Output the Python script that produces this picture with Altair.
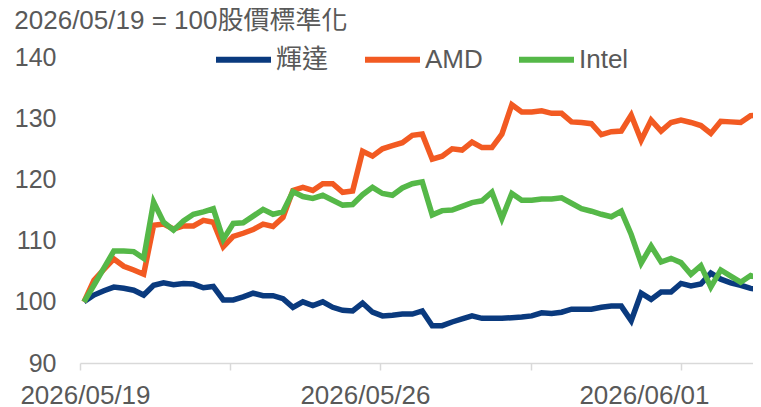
import altair as alt
import pandas as pd

series_names = ["輝達", "AMD", "Intel"]
series_colors = ["#0a3a7e", "#f25a22", "#55b848"]

nvda = [100, 101.1, 101.8, 102.4, 102.2, 101.9, 101.1, 102.7, 103.1, 102.8,
        103.0, 102.9, 102.3, 102.5, 100.3, 100.3, 100.8, 101.4, 101.0, 101.0,
        100.5, 99.1, 100.0, 99.4, 100.0, 99.1, 98.6, 98.5, 99.8, 98.3,
        97.7, 97.8, 98.0, 98.0, 98.5, 96.1, 96.1, 96.7, 97.2, 97.7,
        97.3, 97.3, 97.3, 97.4, 97.5, 97.7, 98.2, 98.1, 98.3, 98.8,
        98.8, 98.8, 99.1, 99.3, 99.3, 96.9, 101.4, 100.4, 101.6, 101.6,
        103.0, 102.6, 102.9, 104.7, 103.7, 103.1, 102.7, 102.2, 101.9]
amd = [100, 103.5, 105.3, 107.0, 105.8, 105.2, 104.5, 112.5, 112.7, 111.9,
       112.4, 112.4, 113.3, 113.0, 109.0, 110.7, 111.2, 111.8, 112.7, 112.3,
       113.8, 118.2, 118.7, 118.2, 119.3, 119.3, 117.9, 118.1, 124.6, 123.8,
       125.0, 125.5, 126.0, 127.2, 127.4, 123.3, 123.8, 125.0, 124.8, 126.1,
       125.2, 125.2, 127.4, 132.2, 131.0, 131.0, 131.2, 130.8, 130.8, 129.4,
       129.3, 129.1, 127.3, 127.8, 127.9, 130.5, 126.4, 129.7, 127.9, 129.3,
       129.7, 129.3, 128.8, 127.5, 129.5, 129.4, 129.3, 130.4, 130.6]
intel = [100, 102.7, 105.5, 108.3, 108.3, 108.2, 107.1, 116.3, 113.0, 111.7,
         113.2, 114.3, 114.7, 115.2, 110.2, 112.8, 112.9, 114.0, 115.1, 114.3,
         114.7, 118.0, 117.2, 116.9, 117.4, 116.6, 115.8, 115.9, 117.5, 118.7,
         117.7, 117.4, 118.6, 119.3, 119.6, 114.2, 114.9, 115.0, 115.6, 116.2,
         116.5, 117.9, 113.6, 117.7, 116.6, 116.6, 116.8, 116.8, 117.0, 116.1,
         115.2, 114.8, 114.3, 113.9, 114.8, 111.0, 106.3, 109.1, 106.5, 107.1,
         106.4, 104.5, 105.9, 102.4, 105.2, 104.2, 103.2, 104.3, 103.7]

x_tick_values = [-0.4, 14.67, 29.8, 44.9, 60.0]
x_label_values = [0.1, 28.24, 56.28]
x_labels = ["2026/05/19", "2026/05/26", "2026/06/01"]
y_ticks = [90, 100, 110, 120, 130, 140]
title_text = "2026/05/19 = 100股價標準化"

rows = []
for name, vals in zip(series_names, [nvda, amd, intel]):
    for i, v in enumerate(vals):
        rows.append({"idx": i, "name": name, "value": v})
df = pd.DataFrame(rows)

FONT = "Liberation Sans, Arial, Noto Sans CJK TC, sans-serif"
GRAY = "#595959"

xscale = alt.Scale(domain=[-0.4, 67.24], nice=False, zero=False)
yscale = alt.Scale(domain=[90, 140], nice=False, zero=False)

y_axis = alt.Axis(values=y_ticks, grid=False, domain=False, ticks=False,
                  labelPadding=24, labelFontSize=25, labelColor=GRAY,
                  labelFont=FONT, title=None)

label_expr = (
    f"datum.value < 14 ? '{x_labels[0]}' : "
    f"datum.value < 42 ? '{x_labels[1]}' : '{x_labels[2]}'"
)

lines = alt.Chart(df).mark_line(strokeWidth=5.5).encode(
    x=alt.X("idx:Q", scale=xscale,
            axis=alt.Axis(orient="bottom", values=x_tick_values, labels=False,
                          grid=False, domainColor="#d9d9d9", domainWidth=1.5,
                          tickColor="#d9d9d9", tickSize=7, tickWidth=1.5,
                          title=None)),
    y=alt.Y("value:Q", scale=yscale, axis=y_axis),
    color=alt.Color("name:N",
                    scale=alt.Scale(domain=series_names, range=series_colors),
                    legend=alt.Legend(orient="none", legendX=133, legendY=-28,
                                      direction="horizontal", title=None,
                                      symbolType="stroke", symbolSize=3025,
                                      symbolStrokeWidth=6, labelFontSize=26,
                                      labelColor=GRAY, labelFont=FONT,
                                      labelOffset=2, columnPadding=24,
                                      padding=0)),
)

label_layer = alt.Chart(df).mark_point(opacity=0).encode(
    x=alt.X("idx:Q", scale=xscale,
            axis=alt.Axis(orient="bottom", values=x_label_values,
                          labelExpr=label_expr, domain=False, ticks=False,
                          grid=False, labelPadding=19, labelFontSize=26,
                          labelColor=GRAY, labelFont=FONT, title=None,
                          labelFlush=False, labelOverlap=False)),
    y=alt.Y("value:Q", scale=yscale, axis=y_axis),
)

chart = alt.layer(lines, label_layer).resolve_axis(x="independent").properties(
    width=673,
    height=306,
    autosize=alt.AutoSizeParams(type="none"),
    padding={"left": 72, "top": 49, "right": 0, "bottom": 44},
    title=alt.TitleParams(title_text, anchor="start", fontSize=26, font=FONT,
                          color=GRAY, fontWeight="normal", offset=-5),
).configure_view(stroke=None)

chart.save("out.html", embed_options={"renderer": "svg", "actions": False})
